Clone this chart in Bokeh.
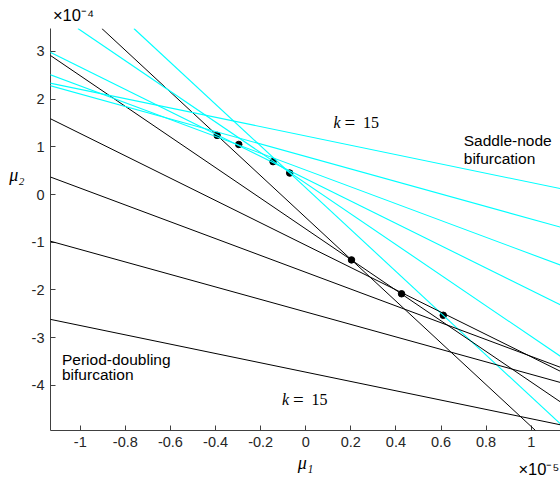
from bokeh.plotting import figure
from bokeh.models import Range1d, FixedTicker, Slope, Label, ColumnDataSource, LinearAxis
from bokeh.embed import file_html
from bokeh.resources import INLINE

# ---- data (x in units of 1e-5, y in units of 1e-4) ----
k_values = [10, 11, 12, 13, 14, 15]
slopes = [-4.38, -3.21, -2.34, -1.763, -1.309, -0.977]
saddle_node_intercepts = [0.141, 0.236, 0.332, 0.514, 0.797, 1.228]
period_doubling_intercepts = [-0.481, -0.720, -1.061, -1.629, -2.460, -3.722]

dot_x = [-0.393, -0.297, -0.145, -0.071, 0.203, 0.425, 0.610]
dot_y = [1.24, 1.05, 0.69, 0.45, -1.37, -2.08, -2.53]

x_ticks = [-1, -0.8, -0.6, -0.4, -0.2, 0, 0.2, 0.4, 0.6, 0.8, 1]
x_tick_labels = ["-1", "-0.8", "-0.6", "-0.4", "-0.2", "0", "0.2", "0.4", "0.6", "0.8", "1"]
y_ticks = [-4, -3, -2, -1, 0, 1, 2, 3]
y_tick_labels = ["-4", "-3", "-2", "-1", "0", "1", "2", "3"]

x_label = "\u03bc\u2081"
y_label = "\u03bc\u2082"
x_exponent = "\u00d710\u207b\u2075"
y_exponent = "\u00d710\u207b\u2074"

x_min, x_max = -1.132, 1.13
y_min, y_max = -4.945, 3.48

p = figure(width=560, height=480, x_range=Range1d(x_min, x_max), y_range=Range1d(y_min, y_max),
           output_backend="svg", toolbar_location=None, title=None,
           min_border_left=50, min_border_right=0, min_border_top=28, min_border_bottom=49)
p.outline_line_color = None
p.xgrid.visible = False
p.ygrid.visible = False
p.background_fill_color = "white"

axis_color = "#404040"
for ax in (p.xaxis[0], p.yaxis[0]):
    ax.axis_line_color = axis_color
    ax.major_tick_line_color = axis_color
    ax.minor_tick_line_color = None
    ax.major_tick_in = 5
    ax.major_tick_out = 0
    ax.major_label_text_font = "Liberation Sans"
    ax.major_label_text_font_size = "14.5px"
    ax.major_label_text_color = "#262626"
    ax.major_label_standoff = 6

p.xaxis.ticker = FixedTicker(ticks=x_ticks)
p.yaxis.ticker = FixedTicker(ticks=y_ticks)
p.xaxis.major_label_overrides = dict(zip(x_ticks, x_tick_labels))
p.yaxis.major_label_overrides = dict(zip(y_ticks, y_tick_labels))

# x axis title
p.xaxis.axis_label = x_label
p.xaxis.axis_label_text_font = "Liberation Serif"
p.xaxis.axis_label_text_font_style = "italic"
p.xaxis.axis_label_text_font_size = "18px"
p.xaxis.axis_label_text_color = "black"
p.xaxis.axis_label_standoff = 3


def text_axis(place, pos, text, font, size, style, standoff):
    ax = LinearAxis(ticker=FixedTicker(ticks=[pos]), major_label_overrides={pos: text},
                    axis_line_color=None, major_tick_line_color=None, minor_tick_line_color=None,
                    major_tick_in=0, major_tick_out=0, major_label_standoff=standoff,
                    major_label_text_font=font, major_label_text_font_size=size,
                    major_label_text_font_style=style, major_label_text_color="black")
    p.add_layout(ax, place)
    return ax


# y axis title (horizontal, left of the tick labels)
text_axis("left", 0.42, y_label, "Liberation Serif", "18px", "italic", 4)
# exponent markers
text_axis("above", -1.03, y_exponent, "Liberation Sans", "16.5px", "normal", 5)
text_axis("below", 1.045, x_exponent, "Liberation Sans", "16.5px", "normal", -16)

# saddle-node (cyan) and period-doubling (black) lines
for k, m, b_sn, b_pd in zip(k_values, slopes, saddle_node_intercepts, period_doubling_intercepts):
    p.add_layout(Slope(gradient=m, y_intercept=b_sn, line_color="#00FFFF", line_width=1.1))
    p.add_layout(Slope(gradient=m, y_intercept=b_pd, line_color="#000000", line_width=1.0))

src = ColumnDataSource(dict(x=dot_x, y=dot_y))
p.scatter("x", "y", source=src, size=6.5, color="black")


def lab(text, x, y, font="Liberation Sans", size="15.5px", style="normal", xo=0):
    p.add_layout(Label(x=x, y=y, x_offset=xo, text=text, text_font=font,
                       text_font_size=size, text_font_style=style, text_align="left",
                       text_baseline="alphabetic", text_color="black"))


lab("Saddle-node", 0.701, 1.136)
lab("bifurcation", 0.701, 0.759)
lab("Period-doubling", -1.081, -3.452)
lab("bifurcation", -1.081, -3.78)

# k = 15 labels
for kx, ky in ((0.123, 1.506), (-0.105, -4.289)):
    lab("k", kx, ky, font="Liberation Serif", size="16px", style="italic")
    lab("=", kx, ky, font="Liberation Serif", size="19px", xo=11)
    lab("15", kx, ky, font="Liberation Serif", size="16px", xo=29.5)

open("out.html", "w").write(file_html(p, INLINE))
